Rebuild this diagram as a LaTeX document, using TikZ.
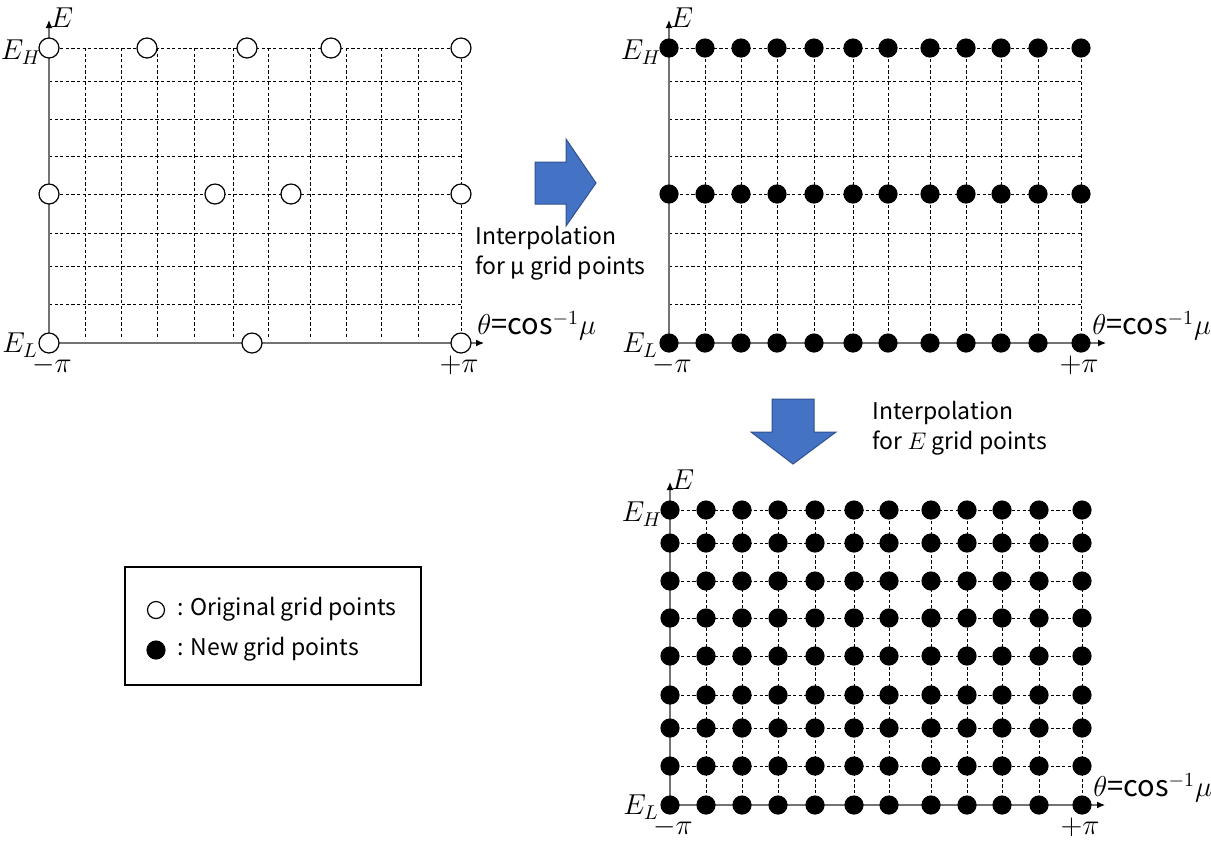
\documentclass[tikz,border=0pt]{standalone}
\usepackage{fontspec}
\setmainfont{Noto Sans CJK JP}
\usetikzlibrary{arrows.meta}
\definecolor{arrowblue}{RGB}{68,114,196}
\definecolor{arrowline}{RGB}{47,82,143}

\begin{document}
\begin{tikzpicture}[x=0.5pt, y=-0.5pt, font=\fontsize{11.5}{15}\selectfont]
	\tikzstyle{axis} = [black!55, line width=0.6pt, -{Latex[length=4pt, width=3.5pt, color=black]}]
	\tikzstyle{gridline} = [black, line width=0.4pt, dash pattern=on 1.6pt off 1.2pt]
	\tikzstyle{oldpt} = [draw, circle, fill=white, line width=0.6pt, minimum size=10pt, inner sep=0pt]
	\tikzstyle{newpt} = [circle, fill=black, minimum size=9.6pt, inner sep=0pt]
	\tikzstyle{bigarrow} = [fill=arrowblue, draw=arrowline, line width=0.5pt]
	\tikzstyle{lbl} = [inner sep=0pt]
	\tikzstyle{mlbl} = [inner sep=0pt, font=\fontsize{14}{16}\selectfont]
	\tikzstyle{thlbl} = [inner sep=0pt, anchor=west, font=\fontsize{14.5}{16}\selectfont]
	\useasboundingbox (0,0) rectangle (1211,843);
	\def\cols{85,121,157,194,233,268,310,346,381,418,461}
	\def\allcols{49,85,121,157,194,233,268,310,346,381,418,461}
	\def\rows{48,81,119,156,194,233,266,304}
	\def\allrows{48,81,119,156,194,233,266,304,343}
	% original grid
	\begin{scope}
		\foreach \y in \rows \draw[gridline] (49,\y) -- (461,\y);
		\foreach \x in \cols \draw[gridline] (\x,48) -- (\x,338);
		\coordinate (a-o) at (49,343);
		\coordinate (a-e) at (49,20);
		\coordinate (a-t) at (484,343);
		\draw[axis] (a-o) -- (a-e);
		\draw[axis] (a-o) -- (a-t);
		\node[mlbl] (a-E) at (62,18) {$E$};
		\node[mlbl] (a-EH) at (21,52) {$E_H$};
		\node[mlbl] (a-EL) at (20,345) {$E_L$};
		\node[mlbl] (a-lo) at (52,365) {$-\pi$};
		\node[mlbl] (a-hi) at (459,365) {$+\pi$};
		\node[thlbl] (a-th) at (477,326) {$\theta$=cos$^{-1}\mu$};
		\foreach \x in {49,147,247,331,461} \node[oldpt] (a-t\x) at (\x,48) {};
		\foreach \x in {49,215,291,461} \node[oldpt] (a-m\x) at (\x,194) {};
		\foreach \x in {49,252,461} \node[oldpt] (a-b\x) at (\x,343) {};
	\end{scope}
	% interpolation in mu
	\draw[bigarrow] (535,162) -- (566,162) -- (566,139) -- (596,183) -- (566,226) -- (566,204) -- (535,204) -- cycle;
	\node[lbl, anchor=west, align=left] (mu-txt) at (475,253) {Interpolation\\for μ grid points};
	\begin{scope}[shift={(620,0)}]
		\foreach \y in \rows \draw[gridline] (49,\y) -- (461,\y);
		\foreach \x in \cols \draw[gridline] (\x,48) -- (\x,338);
		\coordinate (b-o) at (49,343);
		\coordinate (b-e) at (49,20);
		\coordinate (b-t) at (486,343);
		\draw[axis] (b-o) -- (b-e);
		\draw[axis] (b-o) -- (b-t);
		\node[mlbl] (b-E) at (62,18) {$E$};
		\node[mlbl] (b-EH) at (21,52) {$E_H$};
		\node[mlbl] (b-EL) at (20,345) {$E_L$};
		\node[mlbl] (b-lo) at (52,365) {$-\pi$};
		\node[mlbl] (b-hi) at (459,365) {$+\pi$};
		\node[thlbl] (b-th) at (472,326) {$\theta$=cos$^{-1}\mu$};
		\foreach \x [count=\i] in \allcols
			\foreach \y [count=\j] in {48,194,343}
				\node[newpt] (b-\i-\j) at (\x,\y) {};
	\end{scope}
	% interpolation in E
	\draw[bigarrow] (772,399) -- (814,399) -- (814,432) -- (836,432) -- (793,464) -- (751,432) -- (772,432) -- cycle;
	\node[lbl, anchor=west, align=left] (e-txt) at (872,428) {Interpolation\\for $E$ grid points};
	\begin{scope}[shift={(621,462)}]
		\foreach \y in \rows \draw[gridline] (49,\y) -- (461,\y);
		\foreach \x in \cols \draw[gridline] (\x,48) -- (\x,338);
		\coordinate (c-o) at (49,343);
		\coordinate (c-e) at (49,20);
		\coordinate (c-t) at (484,343);
		\draw[axis] (c-o) -- (c-e);
		\draw[axis] (c-o) -- (c-t);
		\node[mlbl] (c-E) at (62,18) {$E$};
		\node[mlbl] (c-EH) at (21,52) {$E_H$};
		\node[mlbl] (c-EL) at (20,345) {$E_L$};
		\node[mlbl] (c-lo) at (52,365) {$-\pi$};
		\node[mlbl] (c-hi) at (459,365) {$+\pi$};
		\node[thlbl] (c-th) at (472,326) {$\theta$=cos$^{-1}\mu$};
		\foreach \x [count=\i] in \allcols
			\foreach \y [count=\j] in \allrows
				\node[newpt] (c-\i-\j) at (\x,\y) {};
	\end{scope}
	% legend
	\node[draw, line width=0.6pt, minimum width=148pt, minimum height=59pt, inner sep=0pt] (legend) at (273,626) {};
	\node[oldpt, minimum size=8.5pt] (leg-old) at (156,610) {};
	\node[lbl, anchor=west] (leg-oldtxt) at (177,609) {: Original grid points};
	\node[newpt] (leg-new) at (156,650) {};
	\node[lbl, anchor=west] (leg-newtxt) at (177,649) {: New grid points};
\end{tikzpicture}
\end{document}
